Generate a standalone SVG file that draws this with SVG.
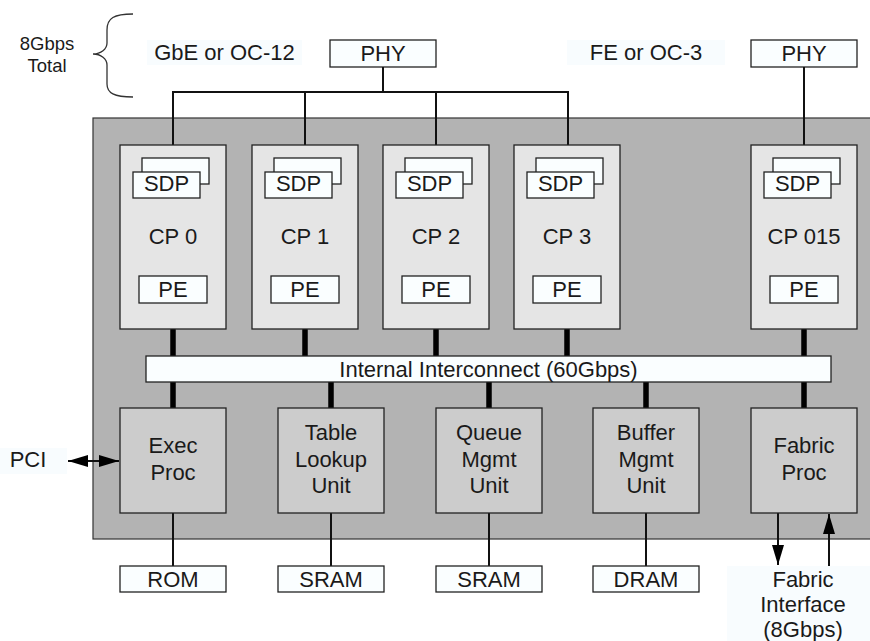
<svg xmlns="http://www.w3.org/2000/svg" width="870" height="641" viewBox="0 0 870 641">
<style>
text{font-family:"Liberation Sans",Arial,sans-serif;font-size:22px;fill:#1a1a1a;text-anchor:middle}
.small{font-size:18.5px}
.chip{fill:#b3b3b3;stroke:#333;stroke-width:1.2}
.cp{fill:#e5e5e5;stroke:#222;stroke-width:1.3}
.unit{fill:#cccccc;stroke:#222;stroke-width:1.3}
.wb{fill:#fafeff;stroke:#222;stroke-width:1.3}
.lbl{fill:#f8fcfe}
.thin{stroke:#111;stroke-width:2;fill:none}
.thick{stroke:#000;stroke-width:5.5;stroke-linecap:round;fill:none}
.brace{stroke:#333;stroke-width:1.3;fill:none}
</style>
<defs>
<marker id="ah" viewBox="0 0 20 12" refX="20" refY="6" markerWidth="20" markerHeight="12" markerUnits="userSpaceOnUse" orient="auto-start-reverse">
<path d="M0,0 L20,6 L0,12 z" fill="#000"/>
</marker>
</defs>
<rect width="870" height="641" fill="#ffffff"/>

<!-- header labels -->
<g id="total">
<text class="small" x="47" y="50">8Gbps</text>
<text class="small" x="47" y="72">Total</text>
<path class="brace" d="M133,14 C114,14 107,18 107,30 L107,43 C107,49 101,54 93,54 C101,54 107,59 107,65 L107,84 C107,93 114,97 133,97"/>
</g>
<g id="gbe">
<rect class="lbl" x="147" y="40" width="155" height="25"/>
<text x="224.5" y="60">GbE or OC-12</text>
</g>
<g id="fe">
<rect class="lbl" x="567" y="40" width="158" height="25"/>
<text x="646" y="60">FE or OC-3</text>
</g>
<g id="phy1">
<rect class="wb" x="330" y="40" width="106" height="27"/>
<text x="383" y="61">PHY</text>
</g>
<g id="phy2">
<rect class="wb" x="751" y="40" width="106" height="27"/>
<text x="804" y="61">PHY</text>
</g>

<!-- chip -->
<g id="chip">
<rect class="chip" x="93" y="118" width="790" height="421"/>
</g>

<!-- connectors -->
<g id="connectors">
<path class="thin" d="M383,67 V92 M173,145 V92 H568 V145 M305,92 V145 M436,92 V145"/>
<path class="thin" d="M804,67 V145"/>
<path class="thick" d="M173,330 V356 M305,330 V356 M436,330 V356 M567,330 V356 M804,330 V356"/>
<path class="thick" d="M173,382 V408 M331,382 V408 M489,382 V408 M646,382 V408 M804,382 V408"/>
<path class="thin" d="M173,513 V566 M331,513 V566 M489,513 V566 M646,513 V566"/>
<line class="thin" x1="68" y1="461" x2="119" y2="461" marker-start="url(#ah)" marker-end="url(#ah)"/>
<line class="thin" x1="778" y1="513" x2="778" y2="565" marker-end="url(#ah)"/>
<line class="thin" x1="829" y1="566" x2="829" y2="514" marker-end="url(#ah)"/>
</g>

<!-- CPs -->
<g id="cp0">
<rect class="cp" x="120" y="145" width="106" height="184"/>
<rect class="wb" x="142" y="158" width="67" height="26"/>
<rect class="wb" x="133" y="172" width="67" height="26"/>
<text x="166.5" y="191">SDP</text>
<text x="173" y="244">CP 0</text>
<rect class="wb" x="139" y="276" width="68" height="27"/>
<text x="173" y="297">PE</text>
</g>
<g id="cp1">
<rect class="cp" x="252" y="145" width="106" height="184"/>
<rect class="wb" x="274" y="158" width="67" height="26"/>
<rect class="wb" x="265" y="172" width="67" height="26"/>
<text x="298.5" y="191">SDP</text>
<text x="305" y="244">CP 1</text>
<rect class="wb" x="271" y="276" width="68" height="27"/>
<text x="305" y="297">PE</text>
</g>
<g id="cp2">
<rect class="cp" x="383" y="145" width="106" height="184"/>
<rect class="wb" x="405" y="158" width="67" height="26"/>
<rect class="wb" x="396" y="172" width="67" height="26"/>
<text x="429.5" y="191">SDP</text>
<text x="436" y="244">CP 2</text>
<rect class="wb" x="402" y="276" width="68" height="27"/>
<text x="436" y="297">PE</text>
</g>
<g id="cp3">
<rect class="cp" x="514" y="145" width="106" height="184"/>
<rect class="wb" x="536" y="158" width="67" height="26"/>
<rect class="wb" x="527" y="172" width="67" height="26"/>
<text x="560.5" y="191">SDP</text>
<text x="567" y="244">CP 3</text>
<rect class="wb" x="533" y="276" width="68" height="27"/>
<text x="567" y="297">PE</text>
</g>
<g id="cp015">
<rect class="cp" x="751" y="145" width="106" height="184"/>
<rect class="wb" x="773" y="158" width="67" height="26"/>
<rect class="wb" x="764" y="172" width="67" height="26"/>
<text x="797.5" y="191">SDP</text>
<text x="804" y="244">CP 015</text>
<rect class="wb" x="770" y="276" width="68" height="27"/>
<text x="804" y="297">PE</text>
</g>

<g id="interconnect">
<rect class="wb" x="146" y="356" width="685" height="26"/>
<text x="488.5" y="377">Internal Interconnect (60Gbps)</text>
</g>

<!-- units -->
<g id="exec">
<rect class="unit" x="120" y="408" width="106" height="105"/>
<text x="173" y="453">Exec</text>
<text x="173" y="480">Proc</text>
</g>
<g id="tlu">
<rect class="unit" x="278" y="408" width="106" height="105"/>
<text x="331" y="440">Table</text>
<text x="331" y="467">Lookup</text>
<text x="331" y="493">Unit</text>
</g>
<g id="qmu">
<rect class="unit" x="436" y="408" width="106" height="105"/>
<text x="489" y="440">Queue</text>
<text x="489" y="467">Mgmt</text>
<text x="489" y="493">Unit</text>
</g>
<g id="bmu">
<rect class="unit" x="593" y="408" width="106" height="105"/>
<text x="646" y="440">Buffer</text>
<text x="646" y="467">Mgmt</text>
<text x="646" y="493">Unit</text>
</g>
<g id="fabric">
<rect class="unit" x="751" y="408" width="106" height="105"/>
<text x="804" y="453">Fabric</text>
<text x="804" y="480">Proc</text>
</g>

<!-- memories -->
<g id="rom">
<rect class="wb" x="120" y="566" width="106" height="26"/>
<text x="173" y="587">ROM</text>
</g>
<g id="sram1">
<rect class="wb" x="278" y="566" width="106" height="26"/>
<text x="331" y="587">SRAM</text>
</g>
<g id="sram2">
<rect class="wb" x="436" y="566" width="106" height="26"/>
<text x="489" y="587">SRAM</text>
</g>
<g id="dram">
<rect class="wb" x="593" y="566" width="106" height="26"/>
<text x="646" y="587">DRAM</text>
</g>

<g id="pci">
<rect class="lbl" x="0" y="448" width="67" height="26"/>
<text x="28" y="467">PCI</text>
</g>
<g id="fabric-if">
<rect class="lbl" x="727" y="566" width="143" height="75"/>
<text x="803" y="587">Fabric</text>
<text x="803" y="612">Interface</text>
<text x="803" y="637">(8Gbps)</text>
</g>
</svg>
